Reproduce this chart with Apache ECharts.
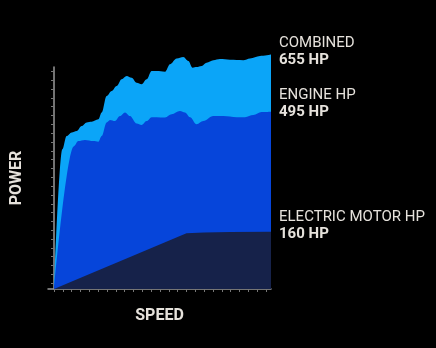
<!DOCTYPE html>
<html><head><meta charset="utf-8">
<script src="https://cdn.jsdelivr.net/npm/echarts@6/dist/echarts.min.js"></script>
<style>html,body{margin:0;padding:0;background:#000;}#c{width:436px;height:348px;}</style>
</head><body><div id="c"></div>
<script>
const seriesNames = ['COMBINED', 'ENGINE HP', 'ELECTRIC MOTOR HP'];
const speedCombined = [0,0.94,1.43,2.0,2.57,3.13,3.7,4.26,5.02,5.4,5.96,6.53,7.09,7.66,8.23,8.79,9.36,9.92,10.49,11.06,11.62,12.57,13.13,13.89,14.64,15.21,15.7,16.15,16.72,17.28,18.04,18.79,19.92,21.43,22.19,23.32,24.57];
const hpCombined = [0,390,427,437,441,455,465,467,474,493,539,553,567,586,595,590,576,572,586,609,609,607,628,644,648,637,618,620,623,632,639,642,640,639,644,651,655];
const speedEngine = [0,2.26,2.75,3.5,4.45,5.02,5.4,5.96,6.34,6.9,7.47,8.04,8.6,9.36,9.92,10.49,11.06,11.62,12.57,13.32,14.26,14.83,15.4,16.15,16.9,18.04,19.17,20.68,21.62,22.57,23.51,24.57];
const hpEngine = [0,399,413,416,413,411,427,465,472,469,483,493,483,462,458,469,480,480,479,488,497,493,480,460,469,483,483,480,480,486,494,495];
const speedElectric = [0,15.0,17.0,20.0,24.57];
const hpElectric = [0,156,158,159,160];
const xTicks = [0,1,2,3,4,5,6,7,8,9,10,11,12,13,14,15,16,17,18,19,20,21,22,23,24];
const yTicks = [17,42,66,91,115,140,165,189,214,238,263,287,312,337,361,386,410,435,460,484,509,533,558,583,607];

const pair = (xs, ys) => xs.map((x, i) => [x, ys[i]]);
const font = '"Roboto", sans-serif';
const txt = '#e6e2dc';

function mk(name, data, color, off, smooth) {
  return {
    name, type: 'line', data, smooth: smooth, smoothMonotone: 'x', clip: false,
    showSymbol: false, symbol: 'none',
    lineStyle: { width: 0, color }, itemStyle: { color },
    areaStyle: { color, opacity: 1 },
    endLabel: {
      show: true, distance: 8, offset: [0, off],
      formatter: p => '{a|' + p.seriesName + '}\n{b|' + p.value[1] + ' HP}',
      rich: {
        a: { fontFamily: font, fontSize: 15, color: txt, lineHeight: 17 },
        b: { fontFamily: font, fontSize: 15, fontWeight: 'bold', color: txt, lineHeight: 17 }
      }
    }
  };
}

const chart = echarts.init(document.getElementById('c'));
chart.setOption({
  backgroundColor: '#000',
  animation: false,
  grid: { left: 48, right: 165, top: 67, bottom: 59 },
  xAxis: [{
    type: 'value', min: -0.68, max: 24.57,
    name: 'SPEED', nameLocation: 'middle', nameGap: 19,
    nameTextStyle: { fontFamily: font, fontSize: 16, fontWeight: 'bold', color: txt },
    axisLine: { show: true, lineStyle: { color: '#9a9a9a', width: 1.5 } },
    axisTick: { show: false }, axisLabel: { show: false }, splitLine: { show: false }
  }, {
    type: 'value', min: -0.68, max: 24.57, position: 'bottom', offset: 3,
    axisLine: { show: false },
    axisTick: { show: true, customValues: xTicks, length: 3, lineStyle: { color: '#777', width: 1 } },
    axisLabel: { show: false }, splitLine: { show: false }
  }],
  yAxis: [{
    type: 'value', min: 0, max: 620,
    name: 'POWER', nameLocation: 'middle', nameGap: 23, nameRotate: 90,
    nameTextStyle: { fontFamily: font, fontSize: 16, fontWeight: 'bold', color: txt },
    axisLine: { show: true, lineStyle: { color: '#9a9a9a', width: 1.5 } },
    axisTick: { show: false }, axisLabel: { show: false }, splitLine: { show: false }
  }, {
    type: 'value', min: 0, max: 620, position: 'left', offset: 3,
    axisLine: { show: false },
    axisTick: { show: true, customValues: yTicks, length: 3, lineStyle: { color: '#777', width: 1 } },
    axisLabel: { show: false }, splitLine: { show: false }
  }],
  series: [
    mk(seriesNames[0], pair(speedCombined, hpCombined), '#0ba5f8', -2.5, 0.35),
    mk(seriesNames[1], pair(speedEngine, hpEngine), '#0645da', -8.5, 0.35),
    mk(seriesNames[2], pair(speedElectric, hpElectric), '#16224a', -5.5, false)
  ]
});
</script></body></html>
